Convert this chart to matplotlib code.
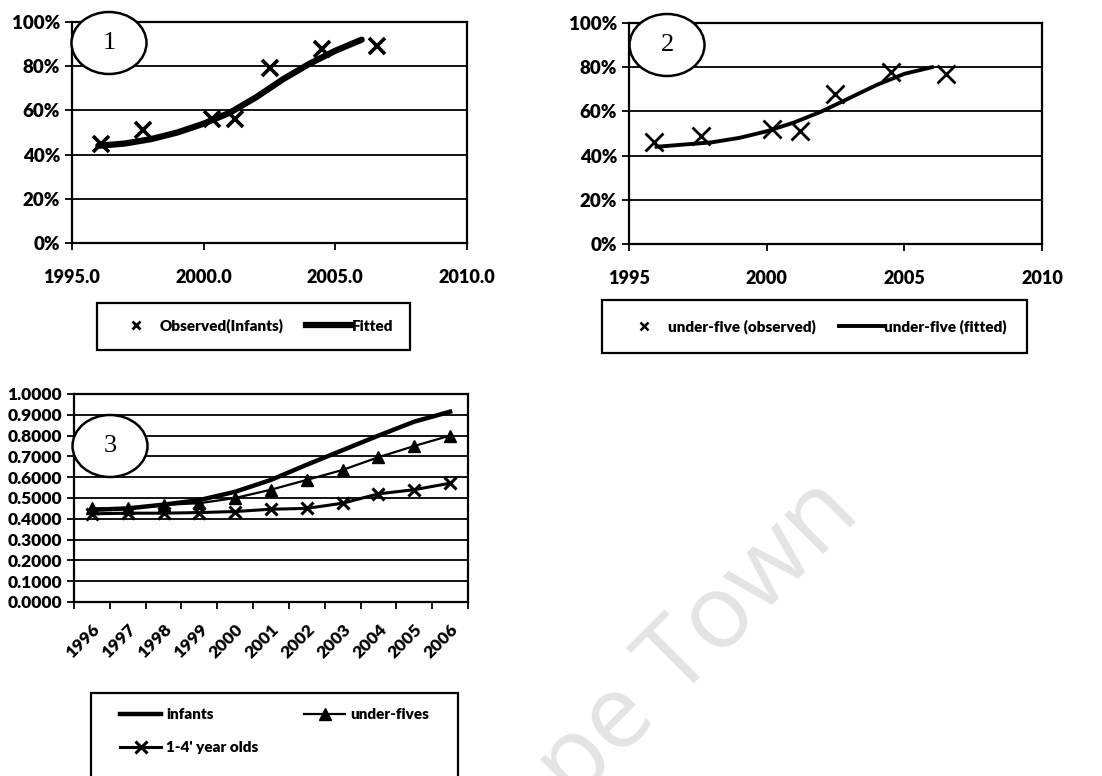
import matplotlib
matplotlib.use("Agg")
import matplotlib.pyplot as plt
from matplotlib.patches import Ellipse, Rectangle
from matplotlib.lines import Line2D
import numpy as np

# ---- data ----
# panel 1: infants
obs1_year = [1996.1, 1997.7, 2000.3, 2001.2, 2002.5, 2004.5, 2006.6]
obs1_val = [0.45, 0.51, 0.56, 0.56, 0.79, 0.88, 0.89]
fit_year = [1996, 1997, 1998, 1999, 2000, 2001, 2002, 2003, 2004, 2005, 2006]
fit1_val = [0.44, 0.45, 0.47, 0.50, 0.54, 0.59, 0.66, 0.74, 0.81, 0.87, 0.92]

# panel 2: under-five
obs2_year = [1995.9, 1997.6, 2000.2, 2001.2, 2002.5, 2004.5, 2006.5]
obs2_val = [0.46, 0.49, 0.52, 0.51, 0.68, 0.78, 0.77]
fit2_val = [0.44, 0.45, 0.46, 0.48, 0.51, 0.55, 0.60, 0.66, 0.72, 0.77, 0.80]

# panel 3: categories
years3 = ["1996", "1997", "1998", "1999", "2000", "2001", "2002", "2003", "2004", "2005", "2006"]
infants = [0.443, 0.450, 0.468, 0.490, 0.530, 0.587, 0.660, 0.730, 0.800, 0.867, 0.915]
under_fives = [0.450, 0.450, 0.467, 0.475, 0.500, 0.540, 0.587, 0.635, 0.696, 0.750, 0.800]
one_to_four = [0.424, 0.427, 0.427, 0.430, 0.435, 0.446, 0.450, 0.475, 0.520, 0.540, 0.571]

W, H = 1102, 776
FONT = "Lato"
WEIGHT = "heavy"
plt.rcParams["font.family"] = [FONT, "DejaVu Sans"]

fig = plt.figure(figsize=(W / 100, H / 100), dpi=100)


def px_axes(l, t, r, b):
    return fig.add_axes([l / W, 1 - b / H, (r - l) / W, (b - t) / H])


def style(ax, fs):
    for s in ax.spines.values():
        s.set_color("black")
        s.set_linewidth(1.6)
    ax.yaxis.grid(True, color="black", lw=1.3)
    ax.set_axisbelow(True)
    ax.tick_params(direction="out", length=5, width=1.3, colors="black",
                   labelsize=fs)
    for lab in ax.get_xticklabels() + ax.get_yticklabels():
        lab.set_fontweight(WEIGHT)


def circle_label(cx, cy, num):
    e = Ellipse((cx / W, 1 - cy / H), 75 / W, 62 / H, transform=fig.transFigure,
                facecolor="white", edgecolor="black", lw=1.8, zorder=5)
    fig.patches.append(e)
    fig.text(cx / W, 1 - cy / H, num, ha="center", va="center",
             family="Liberation Serif", fontsize=19, zorder=6)


def legend_box(l, t, r, b):
    fig.patches.append(Rectangle((l / W, 1 - b / H), (r - l) / W, (b - t) / H,
                                 transform=fig.transFigure, facecolor="white",
                                 edgecolor="black", lw=1.6, zorder=4))


LEG_PROP = {"family": FONT, "weight": WEIGHT, "size": 11}

# ---------- panel 1 ----------
ax1 = px_axes(72, 22, 467, 243)
ax1.plot(fit_year, fit1_val, color="black", lw=4.5, solid_capstyle="round", zorder=3)
ax1.plot(obs1_year, obs1_val, ls="none", marker="x", ms=12, mew=2.6, color="black", zorder=4)
ax1.set_xlim(1995, 2010)
ax1.set_ylim(0, 1)
ax1.set_xticks([1995, 2000, 2005, 2010])
ax1.set_xticklabels(["1995.0", "2000.0", "2005.0", "2010.0"])
ax1.set_yticks([0, 0.2, 0.4, 0.6, 0.8, 1.0])
ax1.set_yticklabels(["0%", "20%", "40%", "60%", "80%", "100%"])
style(ax1, 13)
ax1.tick_params(axis="y", labelsize=13.5)
ax1.tick_params(axis="x", pad=14)
circle_label(109, 43, "1")

legend_box(97, 303, 410, 350)
h1 = [Line2D([], [], ls="none", marker="x", ms=6, mew=2, color="black"),
      Line2D([], [], color="black", lw=4.5)]
fig.legend(h1, ["Observed(Infants)", "Fitted"], loc="center",
           bbox_to_anchor=((97 + 410) / 2 / W, 1 - 326 / H), ncol=2, frameon=False,
           prop=LEG_PROP, handlelength=2.9, handletextpad=0.1, columnspacing=1.5)

# ---------- panel 2 ----------
ax2 = px_axes(629, 23, 1042, 244)
ax2.plot(fit_year, fit2_val, color="black", lw=2.8, zorder=3)
ax2.plot(obs2_year, obs2_val, ls="none", marker="x", ms=13, mew=2.0, color="black", zorder=4)
ax2.set_xlim(1995, 2010)
ax2.set_ylim(0, 1)
ax2.set_xticks([1995, 2000, 2005, 2010])
ax2.set_xticklabels(["1995", "2000", "2005", "2010"])
ax2.set_yticks([0, 0.2, 0.4, 0.6, 0.8, 1.0])
ax2.set_yticklabels(["0%", "20%", "40%", "60%", "80%", "100%"])
style(ax2, 13)
ax2.tick_params(axis="y", labelsize=13.5)
ax2.tick_params(axis="x", pad=14)
circle_label(667, 45, "2")

legend_box(602, 300, 1027, 353)
h2 = [Line2D([], [], ls="none", marker="x", ms=6, mew=1.8, color="black"),
      Line2D([], [], color="black", lw=2.8)]
fig.legend(h2, ["under-five (observed)", "under-five (fitted)"], loc="center",
           bbox_to_anchor=((602 + 1027) / 2 / W, 1 - 327 / H), ncol=2, frameon=False,
           prop=LEG_PROP, handlelength=2.9, handletextpad=0.1, columnspacing=1.5)

# ---------- panel 3 ----------
ax3 = px_axes(74, 394, 468, 602)
x3 = np.arange(len(years3))
ax3.plot(x3, infants, color="black", lw=3.2, zorder=3, label="infants")
ax3.plot(x3, one_to_four, color="black", lw=2.2, marker="x", ms=9, mew=2.2,
         zorder=4, label="1-4' year olds")
ax3.plot(x3, under_fives, color="black", lw=1.6, marker="^", ms=8,
         zorder=4, label="under-fives")
ax3.set_xlim(-0.5, len(years3) - 0.5)
ax3.set_ylim(0, 1)
ax3.set_yticks(np.arange(0, 1.01, 0.1))
ax3.set_yticklabels(["%.4f" % v for v in np.arange(0, 1.01, 0.1)])
ax3.set_xticks(np.arange(-0.5, len(years3), 1.0))
ax3.set_xticklabels([])
ax3.set_xticks(x3, minor=True)
ax3.set_xticklabels(years3, minor=True, rotation=45, ha="right", va="top",
                    rotation_mode="anchor")
style(ax3, 12.5)
ax3.tick_params(axis="x", which="minor", length=0, pad=14, labelsize=12.5)
for lab in ax3.get_xticklabels(minor=True):
    lab.set_fontweight(WEIGHT)
circle_label(110, 446, "3")

legend_box(91, 693, 458, 778)
h3, l3 = ax3.get_legend_handles_labels()
fig.legend(h3, l3, loc="center",
           bbox_to_anchor=((91 + 458) / 2 / W, 1 - 731 / H), ncol=2, frameon=False,
           prop=LEG_PROP, handlelength=2.7, handletextpad=0.3, columnspacing=3.0,
           labelspacing=1.3)

# watermark
fig.text(675 / W, 1 - 703 / H, "Cape Town", rotation=45, rotation_mode="anchor",
         ha="center", va="baseline", family="Open Sans", fontsize=74,
         color="#e4e4e4", zorder=0)

fig.savefig("out.png", dpi=100)
